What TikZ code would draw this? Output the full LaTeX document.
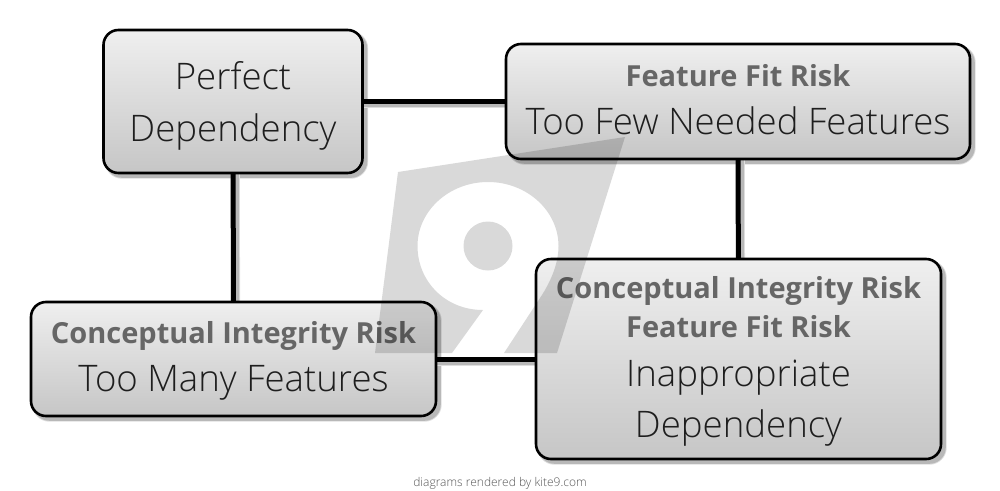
\documentclass[tikz,border=0pt]{standalone}
\usepackage{fontspec}
\setmainfont{Open Sans Light}
\newfontfamily\boldf{Open Sans}[BoldFont={Open Sans Bold}]
\definecolor{boxtop}{HTML}{EFEFEF}
\definecolor{boxbot}{HTML}{C6C6C6}
\definecolor{shadowc}{HTML}{B8B8B8}
\definecolor{shadowl}{HTML}{DEDEDE}
\definecolor{textdark}{HTML}{1E1E1E}
\definecolor{riskc}{HTML}{666666}
\definecolor{footc}{HTML}{555555}
\newcommand{\riskline}{\boldf\bfseries\fontsize{29}{52}\selectfont\color{riskc}}
\newcommand{\plainline}{\fontsize{36.6}{52}\selectfont\color{textdark}}
\tikzset{
  riskbox/.style={draw=black,line width=2.6pt,rounded corners=15pt,top color=boxtop,bottom color=boxbot,
    inner sep=0pt,align=center,text=textdark,font=\fontsize{36.6}{52}\selectfont},
  boxshade/.style={fill=shadowc,draw=shadowc,line width=2.6pt,rounded corners=15pt,inner sep=0pt,
    preaction={draw=shadowl,line width=4.4pt}},
  link/.style={draw=black,line width=5pt},
  linkshade/.style={draw=shadowc,line width=4.4pt,preaction={draw=shadowl,line width=6.4pt}},
  mark9/.style={fill=black,fill opacity=0.15,even odd rule,draw=none},
  foot/.style={text=footc,font=\fontsize{12}{14}\selectfont},
}
\begin{document}
\begin{tikzpicture}[x=1pt,y=-1pt]
\useasboundingbox (0,0) rectangle (1000,490);
\coordinate (pc) at (233,101.5);
\coordinate (fc) at (738,101.5);
\coordinate (lc) at (233.5,359);
\coordinate (rc) at (738.5,359);
\coordinate (pcs) at (236.5,105);
\coordinate (fcs) at (741.5,105);
\coordinate (lcs) at (237,362.5);
\coordinate (rcs) at (742,362.5);
\node[boxshade,minimum width=259pt,minimum height=143pt] (perfects) at (pcs) {};
\node[boxshade,minimum width=464pt,minimum height=115pt] (fits) at (fcs) {};
\node[boxshade,minimum width=405pt,minimum height=114pt] (manys) at (lcs) {};
\node[boxshade,minimum width=405pt,minimum height=200pt] (bads) at (rcs) {};
\path[linkshade] (pcs) -- (fcs);
\path[linkshade] (pcs) -- (lcs);
\path[linkshade] (fcs) -- (rcs);
\path[linkshade] (lcs) -- (rcs);
\path[link] (pc) -- (fc);
\path[link] (pc) -- (lc);
\path[link] (fc) -- (rc);
\path[link] (lc) -- (rc);
\node[riskbox,minimum width=259pt,minimum height=143pt] (perfect) at (pc)
  {\plainline\rule{0pt}{36pt}Perfect\\[0pt]\plainline Dependency};
\node[riskbox,minimum width=464pt,minimum height=115pt] (fit) at (fc)
  {\riskline Feature Fit Risk\\[-4pt]\plainline Too Few Needed Features\rule[-4pt]{0pt}{0pt}};
\node[riskbox,minimum width=405pt,minimum height=114pt] (many) at (lc)
  {\riskline\rule{0pt}{26pt}Conceptual Integrity Risk\\[-4pt]\plainline Too Many Features};
\node[riskbox,minimum width=405pt,minimum height=200pt] (bad) at (rc)
  {\riskline\rule{0pt}{26pt}Conceptual Integrity Risk\\[-13pt]\riskline Feature Fit Risk\\[-3pt]\plainline Inappropriate\\[-1pt]\plainline Dependency};
\path[mark9] (398,172) -- (625,137) -- (557,353) -- (504,353) -- (540,298)
  .. controls (552,280) and (558.5,262) .. (558.5,246)
  .. controls (558.5,211) and (527,182) .. (488,182)
  .. controls (449,182) and (417.5,211) .. (417.5,246)
  .. controls (417.5,281) and (445,310) .. (483,310)
  -- (452,353) -- (375,353) -- cycle
  (512.5,246) .. controls (512.5,259.5) and (501.5,270.5) .. (488,270.5)
  .. controls (474.5,270.5) and (463.5,259.5) .. (463.5,246)
  .. controls (463.5,232.5) and (474.5,221.5) .. (488,221.5)
  .. controls (501.5,221.5) and (512.5,232.5) .. (512.5,246) -- cycle;
\node[foot] (credit) at (500,483) {diagrams rendered by kite9.com};
\end{tikzpicture}
\end{document}
